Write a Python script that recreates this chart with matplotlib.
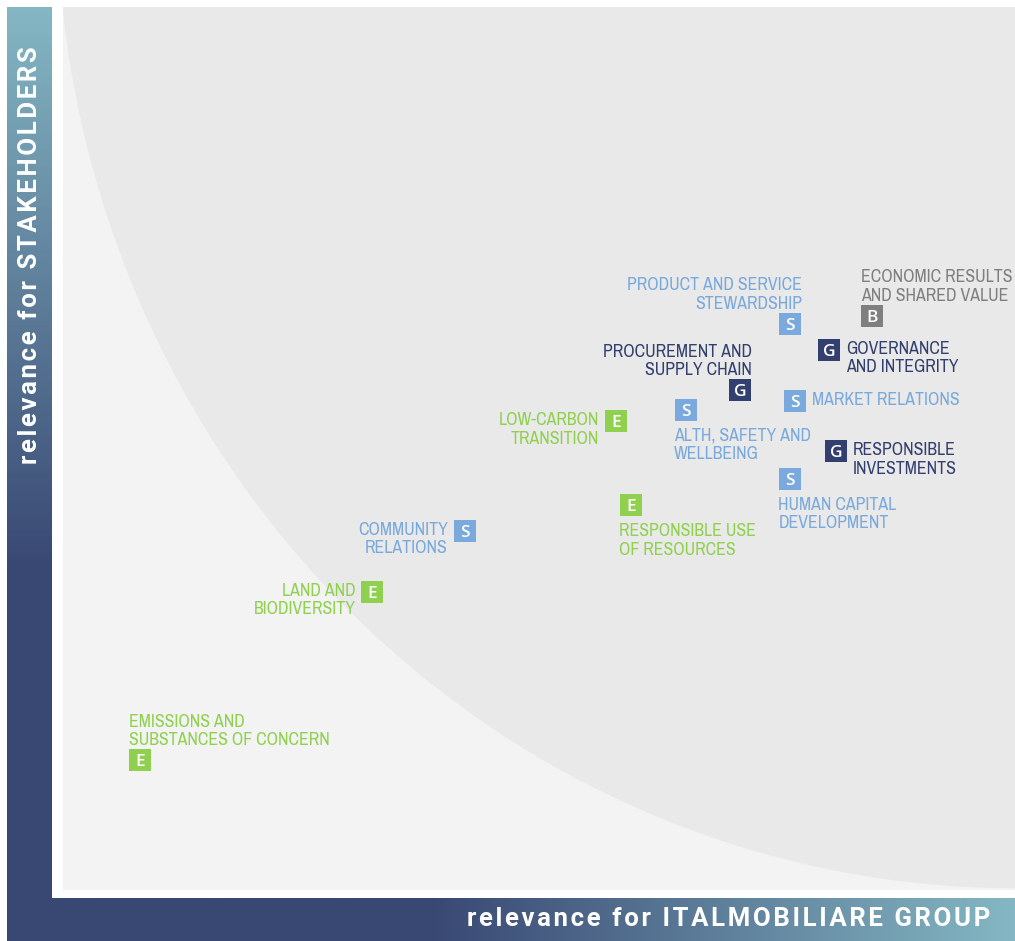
import numpy as np
import matplotlib.pyplot as plt
from matplotlib.colors import LinearSegmentedColormap
from matplotlib.patches import Ellipse

# temi materiali: posizione (rilevanza gruppo, rilevanza stakeholder)
topics = ["EMISSIONS AND\nSUBSTANCES OF CONCERN", "LAND AND\nBIODIVERSITY",
          "COMMUNITY\nRELATIONS", "LOW-CARBON\nTRANSITION",
          "RESPONSIBLE USE\nOF RESOURCES", "ALTH, SAFETY AND\nWELLBEING",
          "PROCUREMENT AND\nSUPPLY CHAIN", "PRODUCT AND SERVICE\nSTEWARDSHIP",
          "MARKET RELATIONS", "HUMAN CAPITAL\nDEVELOPMENT",
          "GOVERNANCE\nAND INTEGRITY", "RESPONSIBLE\nINVESTMENTS",
          "ECONOMIC RESULTS\nAND SHARED VALUE"]
categories = ["E", "E", "S", "E", "E", "S", "G", "S", "S", "S", "G", "G", "B"]
group_relevance = [0.81, 3.25, 4.22, 5.81, 5.97, 6.54, 7.11, 7.64, 7.69, 7.64, 8.05, 8.12, 8.50]
stakeholder_relevance = [1.47, 3.38, 4.07, 5.31, 4.36, 5.44, 5.66, 6.41, 5.54, 4.66, 6.12, 4.97, 6.50]
label_side = ["above_l", "left", "left", "left", "below", "below", "above_r", "above_r",
              "right", "below", "right", "right", "above_l"]

colors = {"E": "#8fd14f", "S": "#79a9dd", "G": "#333f6e", "B": "#7f7f7f"}
navy = "#394873"
teal = "#84b7c3"

W, H = 1015, 941
fig = plt.figure(figsize=(W / 100, H / 100), dpi=100)
fig.patch.set_facecolor("white")


def spaced(s):
    # spaziatura tra le lettere come nell'originale
    return "\u200a".join(s)


# barre laterali con sfumatura
cmap = LinearSegmentedColormap.from_list("bar", [navy, teal])
axl = fig.add_axes([7 / W, 0, 45 / W, 934 / H])
g = np.clip((np.linspace(0, 1, 300) - 0.4) / 0.6, 0, 1)[:, None]
axl.imshow(g, cmap=cmap, aspect="auto", extent=[0, 1, 0, 1], origin="lower", vmin=0, vmax=1)
axl.set_axis_off()
axl.text(0.52, 0.7345, spaced("relevance for STAKEHOLDERS"), rotation=90, color="white",
         fontsize=18.5, fontweight="bold", family=["Roboto", "DejaVu Sans"],
         ha="center", va="center", transform=axl.transAxes)

axb = fig.add_axes([7 / W, 0, 1008 / W, 43 / H])
gb = np.clip((np.linspace(0, 1, 400) - 0.42) / 0.58, 0, 1)[None, :]
axb.imshow(gb, cmap=cmap, aspect="auto", extent=[0, 1, 0, 1], origin="lower", vmin=0, vmax=1)
axb.set_axis_off()
axb.text(0.976, 0.5, spaced("relevance for ITALMOBILIARE GROUP"), color="white",
         fontsize=18.5, fontweight="bold", family=["Roboto", "DejaVu Sans"],
         ha="right", va="center", transform=axb.transAxes)

# area della matrice
ax = fig.add_axes([63 / W, 1 - 890 / H, 952 / W, 883 / H])
ax.set_xlim(0, 10)
ax.set_ylim(0, 10)
ax.set_facecolor("#f3f3f3")
for s in ax.spines.values():
    s.set_visible(False)
ax.set_xticks([])
ax.set_yticks([])
ax.add_patch(Ellipse((10, 11.21), 20.13, 22.38, facecolor="#e9e9e9", edgecolor="none", zorder=0))

px = 0.72  # pixel -> punti
font = ["Archivo Narrow", "Liberation Sans", "DejaVu Sans"]
for name, cat, x, y, side in zip(topics, categories, group_relevance,
                                 stakeholder_relevance, label_side):
    c = colors[cat]
    ax.scatter([x], [y], marker="s", s=(23 * px) ** 2, color=c, linewidths=0, zorder=3)
    ax.annotate(cat, (x, y), ha="center", va="center_baseline", color="white", fontsize=12.5,
                fontweight="semibold", family=["Open Sans", "DejaVu Sans"], zorder=4)
    if side == "left":
        off, ha, va = (-17, 9), "right", "top"
    elif side == "right":
        off, ha, va = (17, 9), "left", "top"
    elif side == "above_l":
        off, ha, va = (-11, 12), "left", "bottom"
    elif side == "above_r":
        off, ha, va = (12, 12), "right", "bottom"
    else:
        off, ha, va = (-12, -18), "left", "top"
    ax.annotate(name, (x, y), xytext=(off[0] * px, off[1] * px), textcoords="offset points",
                ha=ha, va=va, color=c, fontsize=12.8, fontweight="semibold", family=font,
                linespacing=1.2, zorder=4)

fig.savefig("out.png", dpi=100, facecolor="white")
